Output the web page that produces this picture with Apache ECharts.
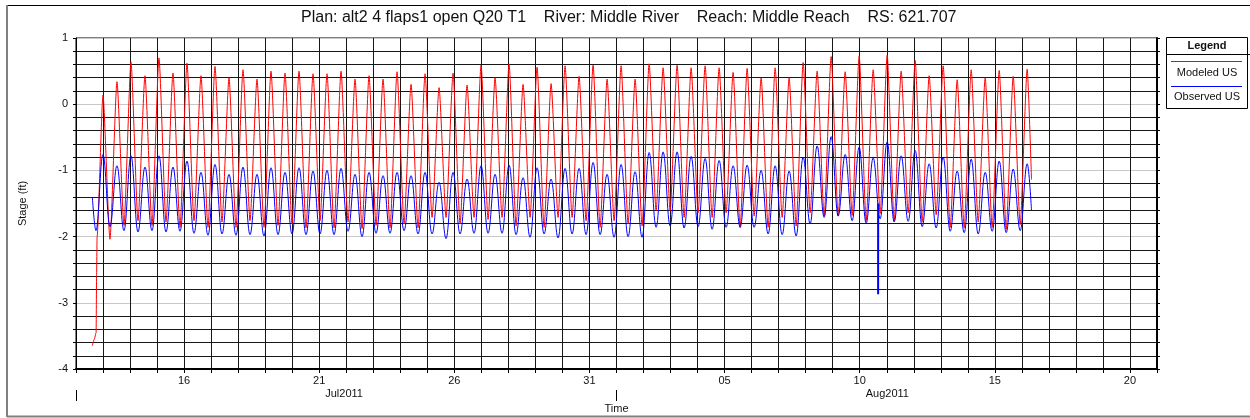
<!DOCTYPE html>
<html lang="en">
<head>
<meta charset="UTF-8">
<title>Stage hydrograph</title>
<script src="https://cdn.jsdelivr.net/npm/echarts@6/dist/echarts.min.js"></script>
<style>
    html, body { margin: 0; padding: 0; background: #fff; }
    #chart { width: 1250px; height: 418px; }
</style>
</head>
<body>
<div id="chart"></div>
<script>
var HOUR = 3600000;
var DAY = 24 * HOUR;

// time axis
var axisStart = Date.UTC(2011, 6, 12);
var axisEnd = Date.UTC(2011, 7, 21);
var dayLabels = [Date.UTC(2011, 6, 16), Date.UTC(2011, 6, 21), Date.UTC(2011, 6, 26), Date.UTC(2011, 6, 31),
    Date.UTC(2011, 7, 5), Date.UTC(2011, 7, 10), Date.UTC(2011, 7, 15), Date.UTC(2011, 7, 20)];
var monthLabelTimes = [Date.UTC(2011, 6, 21), Date.UTC(2011, 7, 10)];
var monthLabelText = ['Jul2011', 'Aug2011'];
var monthMarks = [Date.UTC(2011, 6, 12), Date.UTC(2011, 7, 1)];

// readings taken at every high and low water (semi-diurnal tide)
var firstHigh = Date.UTC(2011, 6, 12, 23, 57);
var halfTideHours = 6.218;

var modeledStart = [
    [Date.UTC(2011, 6, 12, 14, 28), -3.65],
    [Date.UTC(2011, 6, 12, 16, 15), -3.55],
    [Date.UTC(2011, 6, 12, 17, 51), -3.45],
    [Date.UTC(2011, 6, 12, 18, 17), -2.6],
    [Date.UTC(2011, 6, 12, 18, 44), -2.0]
];
var modeledHighs = [
    0.14, 0.34, 0.64, 0.43, 0.70, 0.47, 0.62, 0.43, 0.57, 0.40,
    0.52, 0.38, 0.50, 0.47, 0.50, 0.46, 0.46, 0.50, 0.38, 0.43,
    0.38, 0.49, 0.30, 0.46, 0.25, 0.47, 0.29, 0.59, 0.40, 0.61,
    0.30, 0.56, 0.31, 0.58, 0.42, 0.59, 0.38, 0.58, 0.38, 0.61,
    0.55, 0.59, 0.55, 0.58, 0.55, 0.48, 0.54, 0.40, 0.55, 0.40,
    0.63, 0.50, 0.72, 0.49, 0.73, 0.52, 0.74, 0.50, 0.66, 0.43,
    0.58, 0.37, 0.52, 0.40, 0.51, 0.42, 0.53
];
var modeledLows = [
    -2.04, -1.83, -1.76, -1.83, -1.78, -1.86, -1.76, -1.86, -1.78, -1.86,
    -1.76, -1.86, -1.83, -1.81, -1.87, -1.76, -1.87, -1.78, -1.88, -1.83,
    -1.87, -1.81, -1.87, -1.71, -1.71, -1.81, -1.71, -1.74, -1.71, -1.84,
    -1.71, -1.86, -1.71, -1.71, -1.76, -1.86, -1.76, -1.81, -1.84, -1.61,
    -1.61, -1.71, -1.64, -1.71, -1.64, -1.86, -1.69, -1.86, -1.71, -1.84,
    -1.64, -1.69, -1.69, -1.68, -1.76, -1.65, -1.76, -1.64, -1.78, -1.67,
    -1.86, -1.87, -1.78, -1.86, -1.89, -1.82
];
var modeledEnd = [Date.UTC(2011, 7, 16, 8, 33), -1.14];

var observedStart = [
    [Date.UTC(2011, 6, 12, 14, 33), -1.41],
    [Date.UTC(2011, 6, 12, 17, 44), -1.91]
];
var observedHighs = [
    -0.76, -0.93, -0.78, -0.95, -0.78, -0.95, -0.86, -1.03, -0.91, -1.06,
    -0.95, -1.06, -0.96, -1.03, -0.96, -1.01, -1.00, -0.97, -1.06, -1.03,
    -1.08, -1.03, -1.08, -1.03, -1.18, -1.03, -1.13, -0.93, -1.06, -0.92,
    -1.11, -0.96, -1.13, -0.97, -0.97, -0.88, -1.06, -0.91, -1.02, -0.73,
    -0.72, -0.72, -0.79, -0.82, -0.85, -0.93, -0.92, -1.00, -0.93, -1.01,
    -0.80, -0.63, -0.49, -0.76, -0.65, -0.81, -0.57, -0.78, -0.70, -0.90,
    -0.80, -1.01, -0.83, -1.03, -0.86, -0.98, -0.90
];
var observedLows = [
    -1.85, -1.91, -1.93, -1.91, -1.93, -1.92, -1.95, -1.98, -1.96, -1.98,
    -1.97, -1.99, -1.97, -1.96, -1.97, -1.96, -1.97, -1.92, -2.00, -1.95,
    -1.95, -1.91, -1.96, -1.96, -2.03, -1.96, -1.95, -1.95, -1.95, -1.97,
    -2.01, -1.96, -2.02, -1.96, -1.97, -1.97, -2.01, -2.00, -2.01, -1.86,
    -1.84, -1.87, -1.85, -1.89, -1.86, -1.86, -1.86, -1.96, -1.97, -1.99,
    -1.81, -1.71, -1.69, -1.76, -1.80, -1.73, -1.78, -1.77, -1.85, -1.87,
    -1.92, -1.94, -1.96, -1.92, -1.94, -1.91
];
var observedDrop = [
    [Date.UTC(2011, 7, 10, 16, 20), -1.50],
    [Date.UTC(2011, 7, 10, 16, 21), -2.87],
    [Date.UTC(2011, 7, 10, 16, 22), -1.50]
];
var observedEnd = [Date.UTC(2011, 7, 16, 8, 33), -1.61];

function tideSeries(start, highs, lows, end) {
    var pts = start.slice();
    for (var i = 0; i < highs.length; i++) {
        var t = firstHigh + 2 * i * halfTideHours * HOUR;
        pts.push([t, highs[i]]);
        if (i < lows.length) pts.push([t + halfTideHours * HOUR, lows[i]]);
    }
    pts.push(end);
    return pts;
}

var modeled = tideSeries(modeledStart, modeledHighs, modeledLows, modeledEnd);
var observed = tideSeries(observedStart, observedHighs, observedLows, observedEnd);

var font = '"Liberation Sans", Arial, sans-serif';
var gridDark = '#161616';

var chart = echarts.init(document.getElementById('chart'));
var option = {
    animation: false,
    textStyle: { fontFamily: font },
    title: {
        text: 'Plan: alt2 4 flaps1 open Q20 T1    River: Middle River    Reach: Middle Reach    RS: 621.707',
        left: 301,
        top: 10,
        padding: 0,
        textStyle: { fontFamily: font, fontSize: 16, fontWeight: 'normal', color: '#111' }
    },
    grid: {
        left: 76, top: 38, width: 1081, height: 331,
        containLabel: false, outerBoundsMode: 'none',
        show: true, borderColor: '#000', borderWidth: 1
    },
    xAxis: [{
        type: 'value',
        min: axisStart,
        max: axisEnd,
        interval: DAY,
        axisLine: { onZero: false, lineStyle: { color: '#000', width: 2 } },
        axisTick: { length: 4, lineStyle: { color: '#000' } },
        axisLabel: {
            customValues: dayLabels,
            margin: 6,
            fontSize: 11,
            color: '#111',
            formatter: function(v) {
                var d = new Date(v).getUTCDate();
                return (d < 10 ? '0' : '') + d;
            }
        },
        splitLine: { show: true, lineStyle: { color: gridDark, width: 1 } }
    }, {
        type: 'value',
        min: axisStart,
        max: axisEnd,
        position: 'bottom',
        offset: 21,
        axisLine: { show: true, onZero: false, lineStyle: { color: '#000', opacity: 0 } },
        axisTick: { show: true, customValues: monthMarks, length: 11, lineStyle: { color: '#000', width: 1 } },
        axisLabel: {
            customValues: monthLabelTimes,
            margin: -2,
            fontSize: 11,
            color: '#111',
            align: 'left',
            padding: [0, 0, 0, 6],
            formatter: function(v) {
                return monthLabelText[monthLabelTimes.indexOf(v)] || '';
            }
        },
        splitLine: { show: false },
        name: 'Time',
        nameLocation: 'middle',
        nameGap: 11,
        nameTextStyle: { fontSize: 11, color: '#111', verticalAlign: 'top' }
    }],
    yAxis: [{
        type: 'value',
        min: -4,
        max: 1,
        interval: 0.2,
        name: 'Stage (ft)',
        nameLocation: 'middle',
        nameRotate: 90,
        nameGap: 48,
        nameTextStyle: { fontSize: 11, color: '#111' },
        axisLine: { show: true, onZero: false, lineStyle: { color: '#000', width: 1 } },
        axisTick: { show: true, length: 3, lineStyle: { color: '#000' } },
        axisLabel: {
            margin: 8,
            fontSize: 11,
            color: '#111',
            formatter: function(v) {
                var r = Math.round(v);
                return Math.abs(v - r) < 1e-6 ? String(r) : '';
            }
        },
        splitLine: {
            show: true,
            lineStyle: { color: ['#c8c8c8', gridDark, gridDark, gridDark, gridDark], width: 1 }
        }
    }, {
        type: 'value',
        min: -4,
        max: 1,
        interval: 0.2,
        position: 'right',
        axisLine: { show: true, onZero: false, lineStyle: { color: '#000', width: 2 } },
        axisTick: { show: true, length: 3, lineStyle: { color: '#000' } },
        axisLabel: { show: false },
        splitLine: { show: false }
    }],
    series: [{
        name: 'Modeled US',
        type: 'line',
        data: modeled,
        symbol: 'none',
        smooth: 0.2,
        smoothMonotone: 'x',
        lineStyle: { color: '#ff0000', width: 1 },
        itemStyle: { color: '#ff0000' },
        z: 2
    }, {
        name: 'Observed US',
        type: 'line',
        data: observed,
        symbol: 'none',
        smooth: 0.4,
        smoothMonotone: 'x',
        lineStyle: { color: '#0000ff', width: 1 },
        itemStyle: { color: '#0000ff' },
        z: 3
    }, {
        name: 'Observed US',
        type: 'line',
        data: observedDrop,
        symbol: 'none',
        lineStyle: { color: '#0000ff', width: 2 },
        itemStyle: { color: '#0000ff' },
        z: 3
    }],
    graphic: [
        // outer frame
        { type: 'line', shape: { x1: 7, y1: 5.5, x2: 1250, y2: 5.5 }, style: { stroke: '#000', lineWidth: 1 } },
        { type: 'line', shape: { x1: 7, y1: 5, x2: 7, y2: 417 }, style: { stroke: '#808080', lineWidth: 2 } },
        { type: 'line', shape: { x1: 7, y1: 416.5, x2: 1250, y2: 416.5 }, style: { stroke: '#808080', lineWidth: 2 } },
        // legend box
        { type: 'rect', shape: { x: 1166.5, y: 37.5, width: 81, height: 71 }, style: { fill: '#fff', stroke: '#000', lineWidth: 1 } },
        { type: 'line', shape: { x1: 1166.5, y1: 54.5, x2: 1250, y2: 54.5 }, style: { stroke: '#000', lineWidth: 1 } },
        { type: 'text', x: 1207, y: 46, style: { text: 'Legend', font: 'bold 11px ' + font, fill: '#111', align: 'center', verticalAlign: 'middle' } },
        { type: 'line', shape: { x1: 1171, y1: 61.5, x2: 1242, y2: 61.5 }, style: { stroke: '#ff0000', lineWidth: 1 } },
        { type: 'text', x: 1207, y: 73, style: { text: 'Modeled US', font: '11px ' + font, fill: '#111', align: 'center', verticalAlign: 'middle' } },
        { type: 'line', shape: { x1: 1171, y1: 86.5, x2: 1242, y2: 86.5 }, style: { stroke: '#0000ff', lineWidth: 1 } },
        { type: 'text', x: 1207, y: 96.5, style: { text: 'Observed US', font: '11px ' + font, fill: '#111', align: 'center', verticalAlign: 'middle' } }
    ]
};
chart.setOption(option);
</script>
</body>
</html>
